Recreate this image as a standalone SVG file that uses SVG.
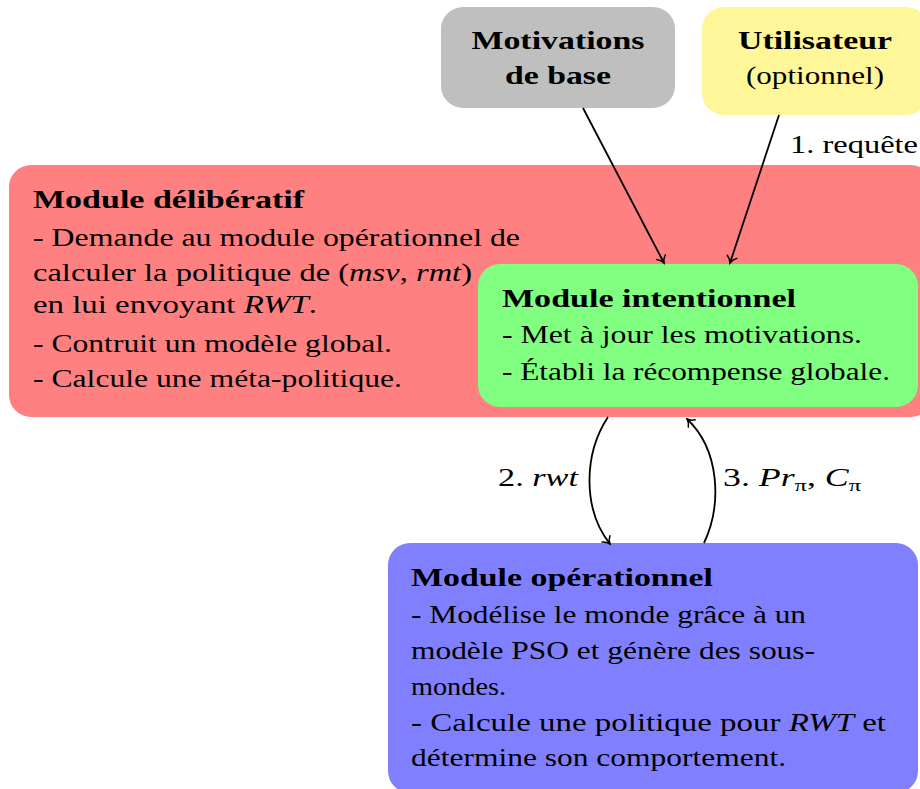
<svg xmlns="http://www.w3.org/2000/svg" width="920" height="789" viewBox="0 0 920 789">
<style>
text{font-family:"Liberation Serif","Times New Roman",serif;font-size:25px;fill:#000}
.b{font-weight:bold}
.i{font-style:italic}
.sub{font-size:17px;font-style:normal}
.c{stroke:#000;stroke-width:1.8;fill:none}
</style>
<defs>
<marker id="to" viewBox="-8 -7 10 14" refX="0" refY="0" markerWidth="10" markerHeight="14" markerUnits="userSpaceOnUse" orient="auto">
<path d="M -6.5 -5 C -4.5 -2 -1.5 -0.5 0 0 C -1.5 0.5 -4.5 2 -6.5 5" fill="none" stroke="#000" stroke-width="1.5" stroke-linecap="round"/>
</marker>
</defs>
<g id="deliberatif">
<rect x="9" y="165" width="924" height="252" rx="22" fill="#ff8080"/>
<text class="b" x="33" y="208" textLength="271" lengthAdjust="spacingAndGlyphs">Module délibératif</text>
<text x="33" y="246" textLength="487" lengthAdjust="spacingAndGlyphs">- Demande au module opérationnel de</text>
<text x="33" y="281" textLength="439" lengthAdjust="spacingAndGlyphs">calculer la politique de (<tspan class="i">msv</tspan>, <tspan class="i">rmt</tspan>)</text>
<text x="33" y="313" textLength="284" lengthAdjust="spacingAndGlyphs">en lui envoyant <tspan class="i">RWT</tspan>.</text>
<text x="33" y="352" textLength="359" lengthAdjust="spacingAndGlyphs">- Contruit un modèle global.</text>
<text x="33" y="387" textLength="369" lengthAdjust="spacingAndGlyphs">- Calcule une méta-politique.</text>
</g>
<g id="motivations">
<rect x="441" y="7" width="234" height="101" rx="22" fill="#bfbfbf"/>
<text class="b" x="558" y="49" text-anchor="middle" textLength="173" lengthAdjust="spacingAndGlyphs">Motivations</text>
<text class="b" x="558" y="84" text-anchor="middle" textLength="106" lengthAdjust="spacingAndGlyphs">de base</text>
</g>
<g id="utilisateur">
<rect x="702" y="7" width="226" height="108" rx="22" fill="#fff599"/>
<text class="b" x="815" y="49" text-anchor="middle" textLength="154" lengthAdjust="spacingAndGlyphs">Utilisateur</text>
<text x="815" y="84" text-anchor="middle" textLength="138" lengthAdjust="spacingAndGlyphs">(optionnel)</text>
</g>
<g id="intentionnel">
<rect x="478" y="264" width="440" height="143" rx="22" fill="#80ff80"/>
<text class="b" x="502" y="307" textLength="294" lengthAdjust="spacingAndGlyphs">Module intentionnel</text>
<text x="502" y="343" textLength="360" lengthAdjust="spacingAndGlyphs">- Met à jour les motivations.</text>
<text x="502" y="380" textLength="388" lengthAdjust="spacingAndGlyphs">- Établi la récompense globale.</text>
</g>
<g id="operationnel">
<rect x="388" y="543" width="530" height="250" rx="22" fill="#8080ff"/>
<text class="b" x="411" y="586" textLength="302" lengthAdjust="spacingAndGlyphs">Module opérationnel</text>
<text x="411" y="623" textLength="395" lengthAdjust="spacingAndGlyphs">- Modélise le monde grâce à un</text>
<text x="411" y="659" textLength="404" lengthAdjust="spacingAndGlyphs">modèle PSO et génère des sous-</text>
<text x="411" y="695" textLength="95" lengthAdjust="spacingAndGlyphs">mondes.</text>
<text x="411" y="731" textLength="475" lengthAdjust="spacingAndGlyphs">- Calcule une politique pour <tspan class="i">RWT</tspan> et</text>
<text x="411" y="766" textLength="375" lengthAdjust="spacingAndGlyphs">détermine son comportement.</text>
</g>
<g id="connectors">
<path class="c" d="M 583 108 L 664 263" marker-end="url(#to)"/>
<path class="c" d="M 779 115 L 730 263" marker-end="url(#to)"/>
<path class="c" d="M 608 417 C 583 455 583 510 610 544" marker-end="url(#to)"/>
<path class="c" d="M 704 543 C 722 505 720 450 687 419" marker-end="url(#to)"/>
<text x="790" y="153" textLength="128" lengthAdjust="spacingAndGlyphs">1. requête</text>
<text x="498" y="486" textLength="80" lengthAdjust="spacingAndGlyphs">2. <tspan class="i">rwt</tspan></text>
<text x="723" y="486" textLength="138" lengthAdjust="spacingAndGlyphs">3. <tspan class="i">Pr</tspan><tspan class="sub" dy="5">π</tspan><tspan dy="-5">, </tspan><tspan class="i">C</tspan><tspan class="sub" dy="5">π</tspan></text>
</g>
</svg>
